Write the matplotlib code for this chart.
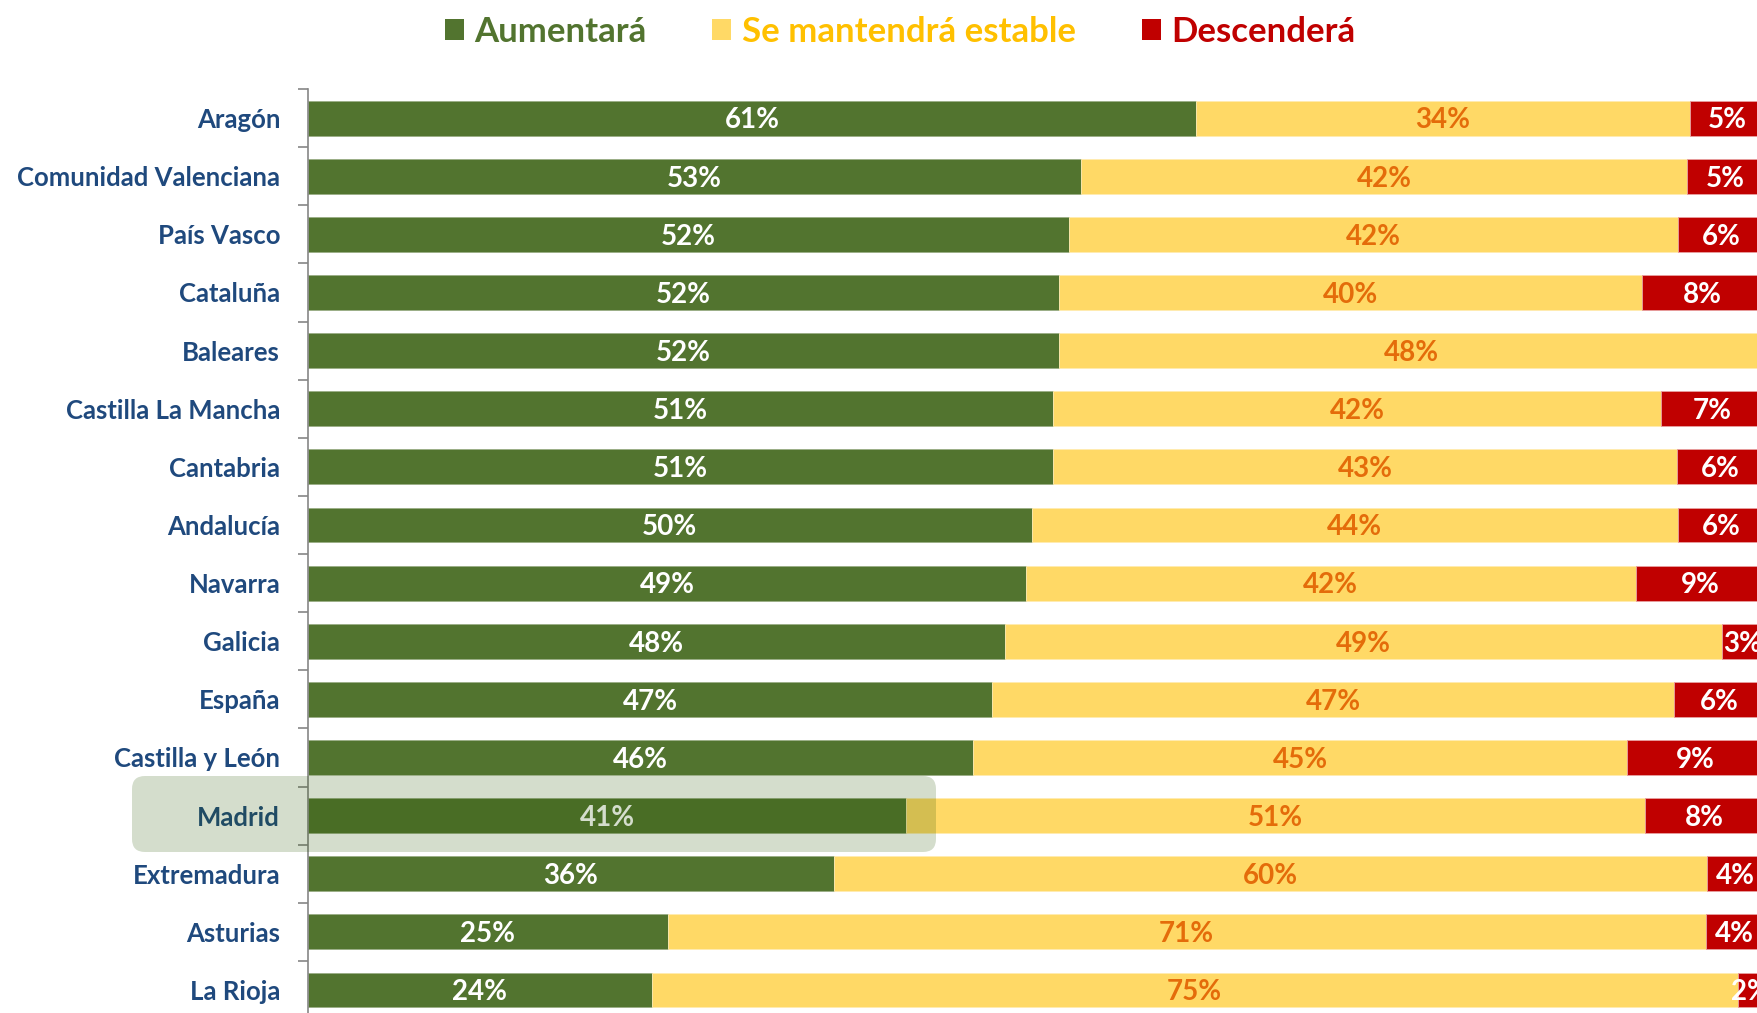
import matplotlib
matplotlib.use("Agg")
import matplotlib.pyplot as plt
from matplotlib.patches import Patch, FancyBboxPatch
from matplotlib.transforms import IdentityTransform
import numpy as np

regions = ["Aragón", "Comunidad Valenciana", "País Vasco", "Cataluña", "Baleares",
           "Castilla La Mancha", "Cantabria", "Andalucía", "Navarra", "Galicia",
           "España", "Castilla y León", "Madrid", "Extremadura", "Asturias", "La Rioja"]
aumentara = [61.0, 53.1, 52.3, 51.6, 51.6, 51.2, 51.2, 49.7, 49.3, 47.9, 47.0, 45.7, 41.1, 36.1, 24.7, 23.6]
estable = [33.9, 41.6, 41.8, 40.0, 48.4, 41.7, 42.8, 44.4, 41.9, 49.2, 46.8, 44.9, 50.7, 60.0, 71.3, 74.6]
descendera = [5.1, 5.3, 5.9, 8.4, 0.0, 7.1, 6.0, 5.9, 8.8, 2.9, 6.2, 9.4, 8.2, 3.9, 4.0, 1.8]
series_names = ["Aumentará", "Se mantendrá estable", "Descenderá"]

GREEN = "#52742F"
YELLOW = "#FFD966"
RED = "#C00000"
ORANGE = "#E46C0A"
LEG_YELLOW = "#FFC000"
NAVY = "#1F497D"

FONT = ["Liberation Sans Narrow", "Lato", "DejaVu Sans"]
plt.rcParams["font.family"] = FONT

W, H = 1758, 1013
fig = plt.figure(figsize=(W / 100, H / 100), dpi=100)
ax = fig.add_axes([308 / W, 1 - 1019 / H, (1764 - 308) / W, 930 / H])

y = np.arange(len(regions))
g = np.array(aumentara)
s = np.array(estable)
d = np.array(descendera)

bh = 0.6
ax.barh(y, g, height=bh, color=GREEN, edgecolor="#9AAE86", linewidth=0.6, zorder=2)
ax.barh(y, s, left=g, height=bh, color=YELLOW, edgecolor="#FFEBB0", linewidth=0.6, zorder=2)
ax.barh(y, d, left=g + s, height=bh, color=RED, edgecolor="#E8A0A0", linewidth=0.6, zorder=2)

fs = 20
dy = 0.04
for i in range(len(regions)):
    ax.text(g[i] / 2, y[i] + dy, f"{round(g[i])}%", ha="center", va="center",
            color="white", fontsize=fs, fontweight="bold", zorder=3, clip_on=False)
    ax.text(g[i] + s[i] / 2, y[i] + dy, f"{round(s[i])}%", ha="center", va="center",
            color=ORANGE, fontsize=fs, fontweight="bold", zorder=3, clip_on=False)
    if d[i] > 0:
        ax.text(g[i] + s[i] + d[i] / 2, y[i] + dy, f"{round(d[i])}%", ha="center", va="center",
                color="white", fontsize=fs, fontweight="bold", zorder=3, clip_on=False)

ax.set_xlim(0, 100)
ax.set_ylim(len(regions) - 0.5, -0.5)
ax.set_yticks(y)
ax.set_yticklabels(regions, fontsize=18.5, fontweight="bold", color=NAVY)
for lbl in ax.get_yticklabels():
    lbl.set_y(lbl.get_position()[1])
ax.set_yticks(np.arange(-0.5, len(regions), 1.0), minor=True)
ax.tick_params(axis="y", which="major", length=0, pad=20)
ax.tick_params(axis="y", which="minor", length=7, width=1.2, color="#868686", direction="out")
ax.set_xticks([])
for sp in ["top", "right", "bottom"]:
    ax.spines[sp].set_visible(False)
ax.spines["left"].set_color("#868686")
ax.spines["left"].set_linewidth(1.2)
ax.patch.set_alpha(0)

# highlight box for Madrid
box = FancyBboxPatch((132, H - 852), 936 - 132, 852 - 776,
                     boxstyle="round,pad=0,rounding_size=13",
                     transform=IdentityTransform(), facecolor="#285500", alpha=0.2,
                     edgecolor="none", zorder=10)
fig.add_artist(box)

handles = [Patch(facecolor=GREEN), Patch(facecolor=YELLOW), Patch(facecolor=RED)]
leg = fig.legend(handles, series_names, loc="center", bbox_to_anchor=(900 / W, 1 - 32 / H),
                 ncol=3, frameon=False, handlelength=0.55, handleheight=0.55,
                 handletextpad=0.3, columnspacing=1.9,
                 prop={"family": FONT, "size": 25, "weight": "bold"})
for t, c in zip(leg.get_texts(), [GREEN, LEG_YELLOW, RED]):
    t.set_color(c)

fig.savefig("out.png", dpi=100)
